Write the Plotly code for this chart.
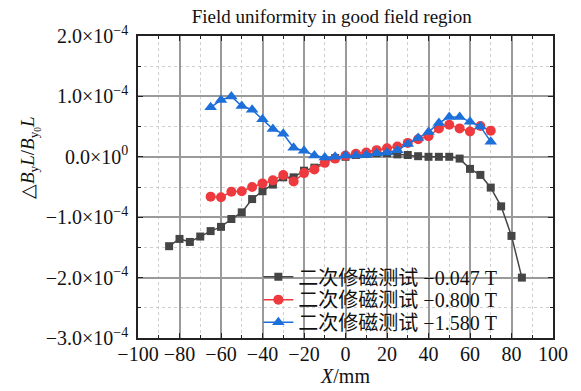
import plotly.graph_objects as go

# ---- data (y values in units of 1e-4) ----
x_black = list(range(-85, 90, 5))
y_black = [-1.48, -1.36, -1.41, -1.32, -1.23, -1.16, -1.03, -0.92, -0.70, -0.57,
           -0.46, -0.34, -0.34, -0.23, -0.18, -0.08, -0.02, 0.00, 0.03, 0.05,
           0.06, 0.06, 0.04, 0.03, 0.01, 0.00, 0.00, 0.00, -0.03, -0.20,
           -0.30, -0.51, -0.82, -1.31, -2.00]

x_red = list(range(-65, 75, 5))
y_red = [-0.66, -0.67, -0.58, -0.57, -0.50, -0.44, -0.39, -0.30, -0.41, -0.27,
         -0.21, -0.10, -0.03, 0.02, 0.05, 0.07, 0.11, 0.14, 0.17, 0.23,
         0.29, 0.34, 0.47, 0.53, 0.47, 0.42, 0.51, 0.43]

x_blue = list(range(-65, 75, 5))
y_blue = [0.82, 0.94, 1.00, 0.84, 0.78, 0.62, 0.46, 0.38, 0.15, 0.10,
          0.02, -0.01, 0.00, 0.02, 0.02, 0.03, 0.06, 0.07, 0.11, 0.21,
          0.31, 0.41, 0.56, 0.66, 0.66, 0.58, 0.50, 0.25]

names = ["二次修磁测试 −0.047 T", "二次修磁测试 −0.800 T", "二次修磁测试 −1.580 T"]

y_tickvals = [-3e-4, -2e-4, -1e-4, 0, 1e-4, 2e-4]
y_ticktext = ["−3.0×10<sup>−4</sup>", "−2.0×10<sup>−4</sup>", "−1.0×10<sup>−4</sup>",
              "0.0×10<sup>0</sup>", "1.0×10<sup>−4</sup>", "2.0×10<sup>−4</sup>"]
x_tickvals = list(range(-100, 101, 20))
x_ticktext = [("−" + str(-v)) if v < 0 else str(v) for v in x_tickvals]

SCALE = 1e-4
FONT = "Liberation Serif, Times New Roman, serif"
LEGFONT = "Liberation Serif, Noto Sans CJK SC"

fig = go.Figure()
series = [
    (x_black, y_black, "#454545", "square", 8, "legend"),
    (x_red, y_red, "#EE3A3F", "circle", 10, "legend2"),
    (x_blue, y_blue, "#1D6FD9", "triangle-up", 11, "legend3"),
]
for (xs, ys, col, sym, sz, leg), nm in zip(series, names):
    fig.add_trace(go.Scatter(
        x=xs, y=[v * SCALE for v in ys], mode="lines+markers", name=nm,
        line=dict(color=col, width=1.5),
        marker=dict(symbol=sym, size=sz, color=col),
        legend=leg, showlegend=True,
    ))

leg_common = dict(bgcolor="rgba(0,0,0,0)", borderwidth=0, visible=True,
                  font=dict(family=LEGFONT, size=20, color="#111"),
                  xanchor="left", yanchor="middle", x=0.29, itemwidth=30,
                  tracegroupgap=0)

fig.update_layout(
    width=581, height=391, autosize=False, showlegend=True,
    margin=dict(l=138, r=28, t=36, b=53),
    paper_bgcolor="white", plot_bgcolor="white",
    font=dict(family=FONT, size=19, color="#111"),
    title=dict(text="Field uniformity in good field region", x=0.571, xref="container",
               xanchor="center", y=0.957, yref="container", yanchor="middle",
               font=dict(family=FONT, size=19, color="#111")),
    legend=dict(**leg_common, y=0.203),
    legend2=dict(**leg_common, y=0.127),
    legend3=dict(**leg_common, y=0.052),
    shapes=[dict(type="rect", xref="paper", yref="paper", layer="between",
                 x0=0.315, x1=0.900, y0=0.01, y1=0.245,
                 fillcolor="white", line=dict(width=0))],
    xaxis=dict(range=[-100, 100], tickvals=x_tickvals, ticktext=x_ticktext,
               automargin=False, ticklabelstandoff=-3,
               showline=True, linecolor="#222", linewidth=1.5, mirror="ticks",
               ticks="inside", ticklen=5, tickcolor="#222", tickwidth=1,
               showgrid=True, gridcolor="#9a9a9a", gridwidth=1.5, zeroline=False,
               minor=dict(dtick=10, tick0=0, showgrid=True, gridcolor="#cfcfcf",
                          griddash="dot", gridwidth=1, ticks="inside", ticklen=3,
                          tickcolor="#222"),
               tickfont=dict(family=FONT, size=20, color="#111"),
               title=dict(text="<i>X</i>/mm", standoff=2,
                          font=dict(family=FONT, size=20, color="#111"))),
    yaxis=dict(range=[-3e-4, 2e-4], tickvals=y_tickvals, ticktext=y_ticktext,
               automargin=False, ticklabelstandoff=4,
               showline=True, linecolor="#222", linewidth=1.5, mirror="ticks",
               ticks="inside", ticklen=5, tickcolor="#222", tickwidth=1,
               showgrid=True, gridcolor="#9a9a9a", gridwidth=1.5, zeroline=False,
               minor=dict(dtick=0.5e-4, tick0=0, showgrid=True, gridcolor="#cfcfcf",
                          griddash="dot", gridwidth=1, ticks="inside", ticklen=3,
                          tickcolor="#222"),
               tickfont=dict(family=FONT, size=20, color="#111")),
    annotations=[dict(
        text="△<i>B</i><sub>y</sub><i>L</i>/<i>B</i><sub>y<sub>0</sub></sub><i>L</i>",
        xref="paper", yref="paper", x=-0.26, y=0.596, textangle=-90,
        showarrow=False, xanchor="center", yanchor="middle",
        font=dict(family=FONT, size=19, color="#111"))],
)

fig.write_html("out.html")
